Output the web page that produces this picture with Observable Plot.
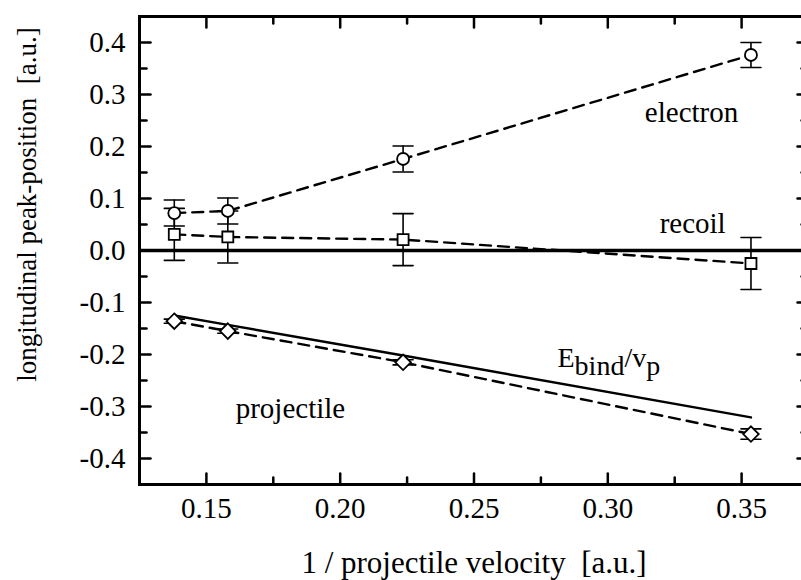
<!DOCTYPE html>
<html><head><meta charset="utf-8">
<script src="https://cdn.jsdelivr.net/npm/d3@7"></script>
<script src="https://cdn.jsdelivr.net/npm/@observablehq/plot@0.6"></script>
<style>html,body{margin:0;padding:0;background:#fff;overflow:hidden}</style>
</head><body><div id="chart"></div>
<script>
// 1 / projectile velocity [a.u.]
const invVelocity = [0.138, 0.158, 0.2235, 0.3535];
// longitudinal peak positions [a.u.]
const electron = [0.072, 0.076, 0.176, 0.376];
const electronErr = [0.025, 0.025, 0.025, 0.024];
const recoil = [0.031, 0.026, 0.021, -0.025];
const recoilErr = [0.05, 0.05, 0.05, 0.05];
const projectile = [-0.136, -0.155, -0.215, -0.353];
const projectileErr = [0.004, 0.004, 0.005, 0.01];
// E_bind / v_p
const bindingLine = [-0.125, -0.143, -0.202, -0.321];

const xTicks = [0.15, 0.20, 0.25, 0.30, 0.35];
const xMinorTicks = [0.175, 0.225, 0.275, 0.325];
const yTicks = [-0.4, -0.3, -0.2, -0.1, 0.0, 0.1, 0.2, 0.3, 0.4];
const yMinorTicks = [-0.35, -0.25, -0.15, -0.05, 0.05, 0.15, 0.25, 0.35];

const seriesLabels = [
  {text: "electron", x: 0.3313, y: 0.2467},
  {text: "recoil", x: 0.3317, y: 0.0346},
  {text: "projectile", x: 0.1814, y: -0.323}
];
const bindLabel = [{text: "Ebind/vp", x: 0.2812, y: -0.2244}];

const FONT = "Liberation Serif, Times New Roman, serif";

const mk = (vals, errs) => invVelocity.map((x, i) => ({x, y: vals[i], lo: vals[i] - errs[i], hi: vals[i] + errs[i]}));
const eRows = mk(electron, electronErr);
const rRows = mk(recoil, recoilErr);
const pRows = mk(projectile, projectileErr);
const bRows = invVelocity.map((x, i) => ({x, y: bindingLine[i]}));
const allRows = [...eRows, ...rRows, ...pRows];

const lineShape = {draw(context, l) { context.moveTo(0, 0); context.lineTo(0, -l); }};
const tickOpts = {shape: lineShape, anchor: "start", stroke: "black", strokeWidth: 2.5};
const dash = "11,7";

const chart = Plot.plot({
  width: 801, height: 580,
  marginLeft: 139, marginRight: -7, marginTop: 16, marginBottom: 96,
  x: {domain: [0.125, 0.375]},
  y: {domain: [-0.45, 0.45]},
  style: {fontFamily: FONT, fontSize: "29px", background: "white", color: "black", overflow: "hidden"},
  marks: [
    Plot.ruleY([0], {stroke: "black", strokeWidth: 3.5}),
    // dashed connecting lines
    Plot.line(eRows, {x: "x", y: "y", stroke: "black", strokeWidth: 2.4, strokeDasharray: dash}),
    Plot.line(rRows, {x: "x", y: "y", stroke: "black", strokeWidth: 2.4, strokeDasharray: dash}),
    Plot.line(pRows, {x: "x", y: "y", stroke: "black", strokeWidth: 2.4, strokeDasharray: dash}),
    Plot.line(bRows, {x: "x", y: "y", stroke: "black", strokeWidth: 2.4}),
    // error bars
    Plot.ruleX(allRows, {x: "x", y1: "lo", y2: "hi", stroke: "black", strokeWidth: 1.6}),
    Plot.vector(allRows, {x: "x", y: "lo", rotate: 90, length: 20, anchor: "middle", shape: lineShape, stroke: "black", strokeWidth: 1.6}),
    Plot.vector(allRows, {x: "x", y: "hi", rotate: 90, length: 20, anchor: "middle", shape: lineShape, stroke: "black", strokeWidth: 1.6}),
    // markers
    Plot.dot(eRows, {x: "x", y: "y", symbol: "circle", r: 6, fill: "white", stroke: "black", strokeWidth: 1.8}),
    Plot.dot(rRows, {x: "x", y: "y", symbol: "square", r: 6.2, fill: "white", stroke: "black", strokeWidth: 1.8}),
    Plot.dot(pRows, {x: "x", y: "y", symbol: "diamond2", r: 7, fill: "white", stroke: "black", strokeWidth: 1.8}),
    // frame and inward ticks
    Plot.frame({stroke: "black", strokeWidth: 3}),
    Plot.vector(yTicks, {y: d => d, frameAnchor: "left", rotate: 90, length: 11, ...tickOpts}),
    Plot.vector(yMinorTicks, {y: d => d, frameAnchor: "left", rotate: 90, length: 7, ...tickOpts}),
    Plot.vector(yTicks, {y: d => d, frameAnchor: "right", rotate: -90, length: 11, ...tickOpts}),
    Plot.vector(yMinorTicks, {y: d => d, frameAnchor: "right", rotate: -90, length: 7, ...tickOpts}),
    Plot.vector(xTicks, {x: d => d, frameAnchor: "bottom", rotate: 0, length: 11, ...tickOpts}),
    Plot.vector(xMinorTicks, {x: d => d, frameAnchor: "bottom", rotate: 0, length: 7, ...tickOpts}),
    Plot.vector(xTicks, {x: d => d, frameAnchor: "top", rotate: 180, length: 11, ...tickOpts}),
    Plot.vector(xMinorTicks, {x: d => d, frameAnchor: "top", rotate: 180, length: 7, ...tickOpts}),
    // tick labels
    Plot.axisX({ticks: xTicks, tickSize: 0, tickPadding: 13, tickFormat: d => d.toFixed(2), label: null, fontSize: 29, fontFamily: FONT}),
    Plot.axisY({ticks: yTicks, tickSize: 0, tickPadding: 14, tickFormat: d => d.toFixed(1), label: null, fontSize: 29, fontFamily: FONT}),
    // axis titles
    Plot.text(["1 / projectile velocity  [a.u.]"], {frameAnchor: "bottom", textAnchor: "middle", dy: 88, lineAnchor: "bottom", fontSize: 31, fontFamily: FONT, fill: "black"}),
    Plot.text(["longitudinal peak-position  [a.u.]"], {frameAnchor: "left", textAnchor: "middle", lineAnchor: "middle", dx: -112, dy: -46, rotate: -90, fontSize: 27, fontFamily: FONT, fill: "black"}),
    // annotations
    Plot.text(seriesLabels, {x: "x", y: "y", text: "text", lineAnchor: "bottom", fontSize: 29, fontFamily: FONT, fill: "black"}),
    Plot.text(bindLabel, {x: "x", y: "y", text: "text", lineAnchor: "bottom", textAnchor: "start", fontSize: 28, fontFamily: FONT, fill: "black"})
  ]
});

d3.select(chart).selectAll("text").filter(function() { return this.textContent === "Ebind/vp"; }).each(function() {
  const t = d3.select(this);
  t.text(null);
  t.append("tspan").text("E");
  t.append("tspan").attr("dy", "8").text("bind");
  t.append("tspan").attr("dy", "-8").text("/v");
  t.append("tspan").attr("dy", "8").text("p");
});
d3.select(chart).selectAll("text").style("white-space", "pre").style("font-family", FONT);
document.getElementById("chart").appendChild(chart);
</script>
</body></html>
